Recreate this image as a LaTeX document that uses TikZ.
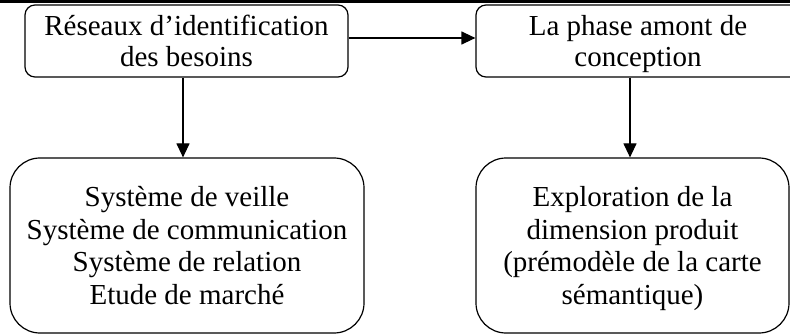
\documentclass[tikz,border=0pt]{standalone}
\usepackage{fontspec}
\setmainfont{Liberation Serif}
\usetikzlibrary{arrows.meta}
\begin{document}
\begin{tikzpicture}[x=1pt,y=1pt,
  box/.style={draw=black, line width=1.2pt, align=center, inner sep=0pt},
  topbox/.style={box, rounded corners=10pt, minimum height=72pt,
    font=\fontsize{29}{31}\selectfont},
  lowbox/.style={box, rounded corners=30pt, minimum height=175pt,
    font=\fontsize{29}{32.7}\selectfont},
  conn/.style={line width=1.2pt, -{Triangle[length=14pt,width=13pt]}}]
\useasboundingbox (0,0) rectangle (790,-334);
\clip (0,0) rectangle (790,-334);
\fill[black] (0,0) rectangle (790,-3.5);
\node[topbox, minimum width=323pt] (A) at (186.5,-41) {Réseaux d’identification\\des besoins};
\node[topbox, minimum width=324pt] (B) at (638,-41) {La phase amont de\\\smash{conception}};
\node[lowbox, minimum width=354pt] (C) at (187,-245.5) {Système de veille\\Système de communication\\Système de relation\\Etude de marché};
\node[lowbox, minimum width=313pt] (D) at (632.5,-245.5) {Exploration de la\\dimension produit\\(prémodèle de la carte\\\smash{sémantique)}};
\draw[conn] ([yshift=3pt]A.east) -- ([yshift=3pt]B.west);
\draw[conn] ([xshift=-3.5pt]A.south) -- ([xshift=-3.5pt]A.south |- C.north);
\draw[conn] ([xshift=-2.5pt]D.north |- B.south) -- ([xshift=-2.5pt]D.north);
\end{tikzpicture}
\end{document}
